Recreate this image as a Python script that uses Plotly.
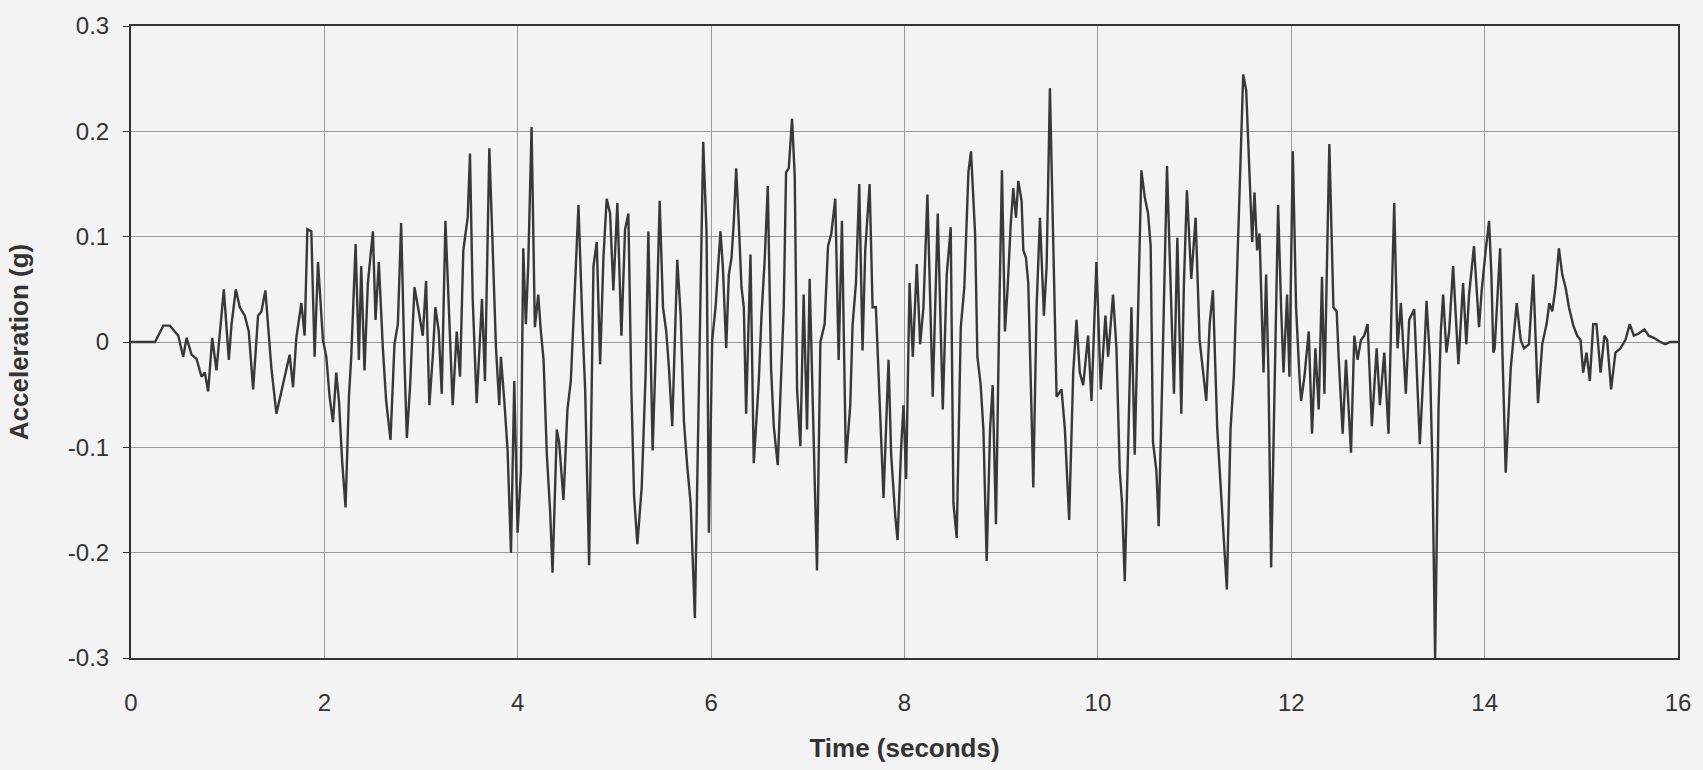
import plotly.graph_objects as go

time_s = [
    0.000, 0.248, 0.334, 0.403, 0.489, 0.540, 0.575, 0.626, 0.678, 0.729, 0.764, 0.798, 0.840, 0.884,
    0.960, 1.012, 1.039, 1.084, 1.125, 1.177, 1.218, 1.263, 1.314, 1.349, 1.390, 1.425, 1.452, 1.504,
    1.572, 1.641, 1.676, 1.710, 1.762, 1.796, 1.824, 1.865, 1.899, 1.934,
    1.985, 2.020, 2.054, 2.089, 2.123, 2.151, 2.185, 2.219, 2.254, 2.278, 2.323, 2.357, 2.381, 2.415,
    2.450, 2.502, 2.529, 2.563, 2.605, 2.639, 2.684, 2.725, 2.760, 2.794, 2.828, 2.853, 2.887, 2.932,
    2.976, 3.018, 3.052, 3.086, 3.121, 3.148, 3.183, 3.214, 3.252, 3.293, 3.327, 3.369, 3.403, 3.437,
    3.482, 3.506, 3.534, 3.575, 3.630, 3.661, 3.706, 3.733, 3.775, 3.809, 3.826, 3.861, 3.895, 3.930,
    3.964, 3.998, 4.033, 4.057,
    4.084, 4.108, 4.143, 4.177, 4.212, 4.239, 4.267, 4.301, 4.335, 4.360, 4.404, 4.428, 4.473, 4.514,
    4.549, 4.590, 4.628, 4.669, 4.697, 4.738, 4.783, 4.817, 4.852, 4.886, 4.920, 4.955, 4.989, 5.030,
    5.072, 5.110, 5.144, 5.175, 5.203, 5.237, 5.282, 5.323, 5.351, 5.395, 5.426, 5.468, 5.502, 5.536,
    5.564, 5.598, 5.650, 5.685, 5.719, 5.753, 5.788, 5.832, 5.874, 5.918, 5.953, 5.977,
    6.011, 6.046, 6.073, 6.097, 6.121, 6.156, 6.183, 6.211, 6.235, 6.259, 6.287, 6.314, 6.338, 6.362,
    6.407, 6.441, 6.493, 6.521, 6.555, 6.586, 6.620, 6.648, 6.689, 6.727, 6.751, 6.775, 6.803, 6.837,
    6.865, 6.889, 6.923, 6.957, 6.992, 7.019, 7.050, 7.095, 7.130, 7.174, 7.209, 7.243, 7.284, 7.319,
    7.353, 7.394, 7.439, 7.463, 7.498, 7.532, 7.566, 7.594, 7.639, 7.670, 7.704, 7.721, 7.749, 7.783,
    7.835, 7.862, 7.904, 7.928, 7.966, 7.990, 8.017, 8.052,
    8.086, 8.127, 8.162, 8.196, 8.237, 8.292, 8.344, 8.396, 8.437, 8.478, 8.506, 8.540, 8.582, 8.619,
    8.661, 8.688, 8.730, 8.754, 8.788, 8.816, 8.850, 8.885, 8.912, 8.946, 8.981, 9.008, 9.039, 9.067,
    9.098, 9.125, 9.153, 9.177, 9.211, 9.229, 9.256, 9.280, 9.308, 9.332, 9.366, 9.401, 9.442, 9.470,
    9.504, 9.538, 9.573, 9.624, 9.659, 9.703, 9.745, 9.779, 9.813, 9.848, 9.899, 9.934, 9.985, 10.030,
    10.078, 10.106, 10.157, 10.192, 10.226, 10.250, 10.278, 10.312, 10.347, 10.381, 10.416, 10.450,
    10.484, 10.519, 10.546, 10.570, 10.605, 10.629, 10.663, 10.691, 10.715, 10.753, 10.787, 10.822,
    10.863, 10.890, 10.921, 10.966, 11.011, 11.052, 11.087, 11.121, 11.156, 11.190, 11.235, 11.269,
    11.303, 11.334, 11.372, 11.406, 11.441, 11.475, 11.503, 11.534, 11.568, 11.596, 11.620, 11.647,
    11.672, 11.689, 11.713, 11.740, 11.764, 11.792, 11.826, 11.864, 11.895, 11.920, 11.957, 11.981,
    12.016,
    12.050, 12.085, 12.102, 12.136, 12.181, 12.215, 12.250, 12.284, 12.318, 12.343, 12.394, 12.436,
    12.470, 12.490, 12.532, 12.566, 12.618, 12.652, 12.686, 12.721, 12.755, 12.790, 12.834, 12.883,
    12.917, 12.962, 13.006, 13.037, 13.065, 13.099, 13.134, 13.185, 13.220, 13.272, 13.330, 13.375,
    13.399, 13.433, 13.461, 13.488, 13.523, 13.547, 13.571, 13.605, 13.633, 13.674, 13.729, 13.777,
    13.811, 13.839, 13.890, 13.942, 13.970, 14.011, 14.046, 14.070, 14.090, 14.104,
    14.160, 14.183, 14.218, 14.270, 14.332, 14.373, 14.407, 14.459, 14.503, 14.552, 14.596, 14.641,
    14.669, 14.700, 14.734, 14.768, 14.803, 14.837, 14.872, 14.916, 14.957, 14.992, 15.019, 15.054,
    15.088, 15.123, 15.157, 15.199, 15.239, 15.267, 15.308, 15.353, 15.405, 15.457, 15.501, 15.543,
    15.594, 15.653, 15.697, 15.749, 15.818, 15.869, 15.921, 16.000,
]

accel_g = [
    0.000, 0.000, 0.0155, 0.0155, 0.006, -0.014, 0.004, -0.012, -0.016, -0.033, -0.029, -0.047, 0.004, -0.027,
    0.050, -0.017, 0.016, 0.050, 0.033, 0.025, 0.010, -0.045, 0.025, 0.029, 0.049, 0.010, -0.025, -0.068,
    -0.041, -0.012, -0.043, 0.004, 0.037, 0.006, 0.107, 0.105, -0.014, 0.076,
    0.002, -0.014, -0.052, -0.076, -0.029, -0.056, -0.115, -0.157, -0.052, -0.014, 0.093, -0.017, 0.072, -0.027,
    0.056, 0.105, 0.021, 0.076, -0.006, -0.056, -0.093, -0.002, 0.017, 0.113, -0.017, -0.091, -0.041, 0.052,
    0.029, 0.006, 0.058, -0.060, -0.014, 0.033, 0.010, -0.049, 0.115, 0.017, -0.060, 0.010, -0.033, 0.087,
    0.118, 0.179, 0.041, -0.058, 0.041, -0.037, 0.184, 0.111, -0.006, -0.060, -0.014, -0.056, -0.103, -0.200,
    -0.037, -0.181, -0.122, 0.089,
    0.017, 0.072, 0.204, 0.014, 0.045, 0.010, -0.017, -0.107, -0.161, -0.219, -0.083, -0.095, -0.150, -0.064,
    -0.037, 0.049, 0.130, 0.017, -0.045, -0.212, 0.072, 0.095, -0.021, 0.080, 0.136, 0.122, 0.049, 0.132,
    0.006, 0.107, 0.122, -0.045, -0.146, -0.192, -0.138, -0.029, 0.105, -0.103, -0.014, 0.134, 0.033, 0.010,
    -0.025, -0.080, 0.078, 0.025, -0.076, -0.118, -0.153, -0.262, -0.045, 0.190, 0.103, -0.181,
    0.002, 0.033, 0.072, 0.105, 0.072, -0.006, 0.064, 0.080, 0.115, 0.165, 0.111, 0.052, 0.033, -0.068,
    0.083, -0.115, -0.037, 0.025, 0.080, 0.148, -0.025, -0.080, -0.117, -0.017, 0.033, 0.161, 0.165, 0.212,
    0.157, -0.045, -0.099, 0.045, -0.083, 0.060, -0.045, -0.217, 0.000, 0.017, 0.091, 0.103, 0.136, -0.017,
    0.115, -0.115, -0.060, 0.016, 0.056, 0.150, -0.008, 0.087, 0.150, 0.033, 0.033, -0.006, -0.068, -0.148,
    -0.017, -0.107, -0.165, -0.188, -0.099, -0.060, -0.130, 0.056,
    -0.014, 0.074, -0.002, 0.033, 0.140, -0.052, 0.122, -0.064, 0.064, 0.109, -0.153, -0.186, 0.014, 0.052,
    0.161, 0.181, 0.103, -0.014, -0.041, -0.083, -0.208, -0.083, -0.041, -0.173, 0.033, 0.163, 0.010, 0.052,
    0.111, 0.146, 0.118, 0.153, 0.134, 0.087, 0.080, 0.056, -0.045, -0.138, 0.033, 0.118, 0.025, 0.072,
    0.241, 0.111, -0.052, -0.045, -0.083, -0.169, -0.029, 0.021, -0.029, -0.041, 0.006, -0.056, 0.076, -0.045,
    0.025, -0.014, 0.045, -0.006, -0.122, -0.153, -0.227, -0.103, 0.033, -0.107, 0.033, 0.163,
    0.138, 0.122, 0.091, -0.095, -0.122, -0.175, -0.045, 0.076, 0.167, 0.052, -0.049, 0.099,
    -0.068, 0.056, 0.144, 0.060, 0.118, 0.002, -0.029, -0.056, 0.017, 0.049, -0.083, -0.142,
    -0.188, -0.235, -0.083, -0.033, 0.072, 0.188, 0.254, 0.239, 0.150, 0.095, 0.142, 0.087,
    0.103, 0.041, -0.029, 0.064, -0.029, -0.214, -0.045, 0.130, 0.033, -0.029, 0.045, -0.033,
    0.181,
    0.033, -0.033, -0.056, -0.033, 0.010, -0.087, -0.006, -0.064, 0.062, -0.049, 0.188, 0.033,
    0.029, -0.014, -0.087, -0.017, -0.105, 0.006, -0.017, 0.002, 0.006, 0.017, -0.080, -0.006,
    -0.060, -0.010, -0.087, 0.033, 0.132, -0.006, 0.037, -0.049, 0.021, 0.031, -0.097, -0.014,
    0.039, -0.014, -0.122, -0.300, -0.064, 0.010, 0.045, -0.010, 0.010, 0.072, -0.021, 0.056,
    -0.002, 0.045, 0.091, 0.014, 0.049, 0.087, 0.115, 0.064, -0.010, -0.006,
    0.089, -0.006, -0.124, -0.025, 0.037, 0.002, -0.006, -0.002, 0.064, -0.058, -0.002, 0.017,
    0.037, 0.029, 0.052, 0.089, 0.064, 0.052, 0.033, 0.016, 0.006, 0.002, -0.029, -0.010,
    -0.037, 0.017, 0.017, -0.029, 0.006, 0.002, -0.045, -0.010, -0.006, 0.002, 0.017, 0.006,
    0.008, 0.012, 0.006, 0.004, 0.000, -0.002, 0.000, 0.000,
]

x_ticks = [0, 2, 4, 6, 8, 10, 12, 14, 16]
y_ticks = [-0.3, -0.2, -0.1, 0, 0.1, 0.2, 0.3]
y_tick_text = ["-0.3", "-0.2", "-0.1", "0", "0.1", "0.2", "0.3"]

bg = "#f3f3f3"
ink = "#333333"

fig = go.Figure()
fig.add_trace(go.Scatter(
    x=time_s, y=accel_g, mode="lines",
    line=dict(color="#383838", width=2.4),
    showlegend=False, hoverinfo="x+y",
))

fig.update_layout(
    width=1703, height=770,
    paper_bgcolor=bg, plot_bgcolor=bg,
    margin=dict(l=131, r=22, t=24, b=111),
    font=dict(family="Liberation Sans, Arial, sans-serif", color=ink, size=24),
)

fig.update_xaxes(
    range=[0, 16], tickvals=x_ticks, ticktext=[str(v) for v in x_ticks],
    showgrid=True, gridcolor="#9a9a9a", gridwidth=1,
    showline=True, linecolor=ink, linewidth=2, mirror=True,
    ticks="", zeroline=False,
    tickfont=dict(size=24), ticklabelstandoff=22,
    title=dict(text="<b>Time (seconds)</b>", font=dict(size=26), standoff=24),
)
fig.update_yaxes(
    range=[-0.3, 0.3], tickvals=y_ticks, ticktext=y_tick_text,
    showgrid=True, gridcolor="#9a9a9a", gridwidth=1,
    showline=True, linecolor=ink, linewidth=2, mirror=True,
    ticks="outside", ticklen=6, tickcolor=ink,
    zeroline=False,
    tickfont=dict(size=24), ticklabelstandoff=9,
    title=dict(text="<b>Acceleration (g)</b>", font=dict(size=26), standoff=32),
)

fig.write_html(
    "out.html",
    config={"displayModeBar": False},
    post_script="document.body.style.margin='0';document.body.style.background='#f3f3f3';",
)
